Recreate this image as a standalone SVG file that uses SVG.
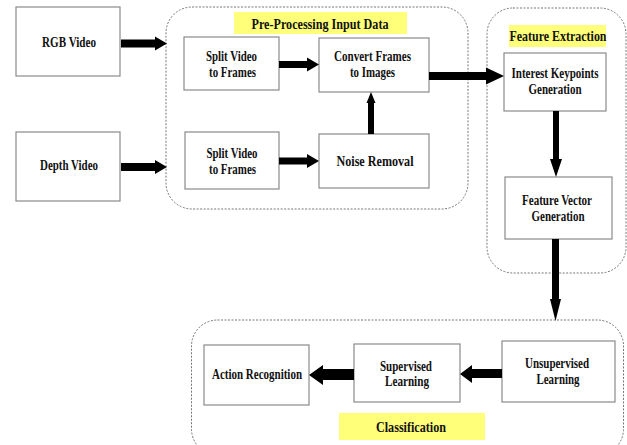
<svg xmlns="http://www.w3.org/2000/svg" width="627" height="445" viewBox="0 0 627 445">
<style>
.box{fill:#fff;stroke:#8a8a8a;stroke-width:1.2}
.grp{fill:none;stroke:#777;stroke-width:1;stroke-dasharray:2 1.5}
.lbl{fill:#ffff7a}
text{font-family:"Liberation Serif","Times New Roman",serif;font-weight:bold;font-size:14.5px;fill:#111;text-anchor:middle}
.arr{fill:#000}
</style>
<rect width="627" height="445" fill="#fff"/>
<g id="groups">
<rect class="grp" x="166" y="7" width="302" height="202" rx="26"/>
<rect class="grp" x="487" y="8" width="139" height="265" rx="26"/>
<rect class="grp" x="191.5" y="320" width="432" height="135" rx="26"/>
</g>
<g id="label-preprocessing">
<rect class="lbl" x="234" y="12" width="173" height="22"/>
<text x="320" y="29" textLength="137" lengthAdjust="spacingAndGlyphs">Pre-Processing Input Data</text>
</g>
<g id="label-feature">
<rect class="lbl" x="509" y="25" width="97" height="22"/>
<text x="558" y="41" textLength="97" lengthAdjust="spacingAndGlyphs">Feature Extraction</text>
</g>
<g id="label-classification">
<rect class="lbl" x="339" y="413" width="146" height="27"/>
<text x="411" y="432" textLength="70" lengthAdjust="spacingAndGlyphs">Classification</text>
</g>
<g id="rgb-video">
<rect class="box" x="16" y="7" width="104" height="69"/>
<text x="69" y="47" textLength="54" lengthAdjust="spacingAndGlyphs">RGB Video</text>
</g>
<g id="depth-video">
<rect class="box" x="16" y="132" width="104" height="69"/>
<text x="69" y="170" textLength="58" lengthAdjust="spacingAndGlyphs">Depth Video</text>
</g>
<g id="split-video-1">
<rect class="box" x="184" y="37" width="95" height="53"/>
<text x="231.5" y="61" textLength="51" lengthAdjust="spacingAndGlyphs">Split Video</text>
<text x="232.5" y="77" textLength="47" lengthAdjust="spacingAndGlyphs">to Frames</text>
</g>
<g id="split-video-2">
<rect class="box" x="185" y="132" width="94" height="57"/>
<text x="232" y="158" textLength="51" lengthAdjust="spacingAndGlyphs">Split Video</text>
<text x="232.5" y="174" textLength="47" lengthAdjust="spacingAndGlyphs">to Frames</text>
</g>
<g id="convert-frames">
<rect class="box" x="319" y="38" width="110" height="54"/>
<text x="372.5" y="61" textLength="77" lengthAdjust="spacingAndGlyphs">Convert Frames</text>
<text x="372.5" y="77" textLength="45" lengthAdjust="spacingAndGlyphs">to Images</text>
</g>
<g id="noise-removal">
<rect class="box" x="319" y="134" width="110" height="54"/>
<text x="375" y="166" textLength="77" lengthAdjust="spacingAndGlyphs">Noise Removal</text>
</g>
<g id="interest-keypoints">
<rect class="box" x="504" y="53" width="102" height="58"/>
<text x="555" y="78" textLength="87" lengthAdjust="spacingAndGlyphs">Interest Keypoints</text>
<text x="555" y="94" textLength="53" lengthAdjust="spacingAndGlyphs">Generation</text>
</g>
<g id="feature-vector">
<rect class="box" x="505" y="177" width="107" height="62"/>
<text x="557" y="205" textLength="70" lengthAdjust="spacingAndGlyphs">Feature Vector</text>
<text x="558" y="221" textLength="53" lengthAdjust="spacingAndGlyphs">Generation</text>
</g>
<g id="action-recognition">
<rect class="box" x="204" y="345" width="105" height="60"/>
<text x="257" y="379" textLength="90" lengthAdjust="spacingAndGlyphs">Action Recognition</text>
</g>
<g id="supervised-learning">
<rect class="box" x="354" y="344" width="106" height="58"/>
<text x="406" y="371" textLength="52" lengthAdjust="spacingAndGlyphs">Supervised</text>
<text x="407" y="386" textLength="44" lengthAdjust="spacingAndGlyphs">Learning</text>
</g>
<g id="unsupervised-learning">
<rect class="box" x="502" y="341" width="113" height="61"/>
<text x="557" y="368" textLength="64" lengthAdjust="spacingAndGlyphs">Unsupervised</text>
<text x="558" y="384" textLength="43" lengthAdjust="spacingAndGlyphs">Learning</text>
</g>
<g id="connectors">
<polygon class="arr" points="121,39.5 155,39.5 155,36.5 167,43.5 155,50.5 155,47.5 121,47.5"/>
<polygon class="arr" points="121,163 155,163 155,160 167,167 155,174 155,171 121,171"/>
<polygon class="arr" points="279,61 307,61 307,57.5 319,64.5 307,71.5 307,68 279,68"/>
<polygon class="arr" points="279,157.5 307,157.5 307,154 319,161 307,168 307,164.5 279,164.5"/>
<polygon class="arr" points="368,134 368,103 366.5,103 371,92 375.5,103 374,103 374,134"/>
<polygon class="arr" points="429,72 486,72 486,67.5 504,76 486,84.5 486,80 429,80"/>
<polygon class="arr" points="553,111 553,159 550,159 556,177 562,159 559,159 559,111"/>
<polygon class="arr" points="552,239 552,299 550,299 555.5,321 561,299 559,299 559,239"/>
<polygon class="arr" points="502,369 472,369 472,365 460,374 472,383 472,378 502,378"/>
<polygon class="arr" points="354,369 323,369 323,365 309,375 323,385 323,380 354,380"/>
</g>
</svg>
